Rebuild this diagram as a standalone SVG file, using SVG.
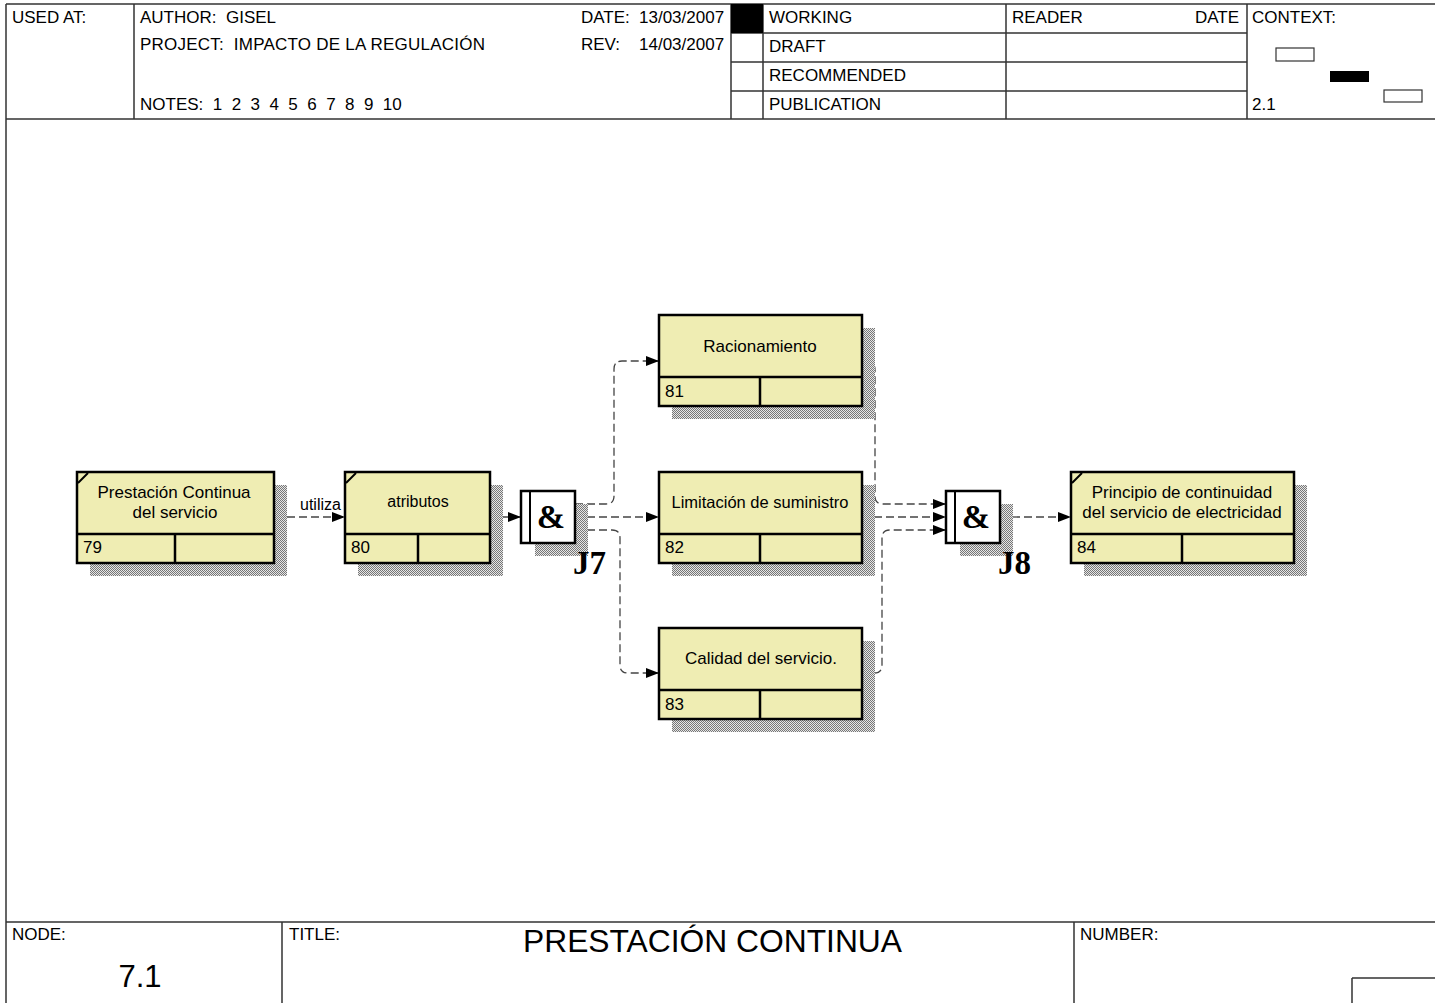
<svg xmlns="http://www.w3.org/2000/svg" width="1435" height="1003" viewBox="0 0 1435 1003">
<style>
.t{font-family:"Liberation Sans",Arial,sans-serif;font-size:17px;fill:#000;white-space:pre}
.s16{font-size:16px}
.b{font-family:"Liberation Sans",Arial,sans-serif;font-size:17px;fill:#000;text-anchor:middle}
.frame{stroke:#333;stroke-width:1.5;fill:none}
.box{fill:#EFEDB3;stroke:#000;stroke-width:2.5}
.ln{stroke:#000;stroke-width:2.5}
.sh{fill:url(#hatch)}
.c{fill:none;stroke:#444;stroke-width:1.3;stroke-dasharray:8,4}
.j{fill:#fff;stroke:#000;stroke-width:2.5}
.amp{font-family:"Liberation Serif","Times New Roman",serif;font-weight:bold;font-size:34px;text-anchor:middle}
.jl{font-family:"Liberation Serif","Times New Roman",serif;font-weight:bold;font-size:33px}
</style>
<defs>
<pattern id="hatch" width="2" height="2" patternUnits="userSpaceOnUse">
<rect width="2" height="2" fill="#e6e6e6"/>
<rect width="1" height="1" fill="#777"/>
<rect x="1" y="1" width="1" height="1" fill="#777"/>
</pattern>
<marker id="ar" markerWidth="13" markerHeight="10" refX="13" refY="5" orient="auto" markerUnits="userSpaceOnUse">
<path d="M0,0 L13,5 L0,10 z" fill="#000"/>
</marker>
</defs>
<rect width="1435" height="1003" fill="#fff"/>

<g id="frame">
<path class="frame" d="M6,4 H1435 M6,4 V1003 M6,119 H1435 M134,4 V119 M731,4 V119 M763,4 V119 M1006,4 V119 M1247,4 V119 M731,33 H1247 M731,62 H1247 M731,91 H1247"/>
<rect x="731" y="4" width="32" height="29" fill="#000"/>
<path class="frame" d="M6,922 H1435 M282,922 V1003 M1074,922 V1003 M1352,978 H1435 M1352,978 V1003"/>
<rect x="1276" y="48" width="38" height="13" fill="#fff" stroke="#333" stroke-width="1.2"/>
<rect x="1330" y="71" width="39" height="11" fill="#000"/>
<rect x="1384" y="90" width="38" height="12" fill="#fff" stroke="#333" stroke-width="1.2"/>
<text class="t" x="12" y="23">USED AT:</text>
<text class="t" x="140" y="23">AUTHOR:  GISEL</text>
<text class="t" x="140" y="50" textLength="345" lengthAdjust="spacing">PROJECT:  IMPACTO DE LA REGULACIÓN</text>
<text class="t" x="140" y="110">NOTES:  1  2  3  4  5  6  7  8  9  10</text>
<text class="t" x="581" y="23">DATE:</text>
<text class="t" x="639" y="23">13/03/2007</text>
<text class="t" x="581" y="50">REV:</text>
<text class="t" x="639" y="50">14/03/2007</text>
<text class="t" x="769" y="23">WORKING</text>
<text class="t" x="769" y="52">DRAFT</text>
<text class="t" x="769" y="81">RECOMMENDED</text>
<text class="t" x="769" y="110">PUBLICATION</text>
<text class="t" x="1012" y="23">READER</text>
<text class="t" x="1239" y="23" style="text-anchor:end">DATE</text>
<text class="t" x="1252" y="23">CONTEXT:</text>
<text class="t" x="1252" y="110">2.1</text>
<text class="t" x="12" y="940">NODE:</text>
<text class="t" x="140" y="987" style="font-size:31px;text-anchor:middle">7.1</text>
<text class="t" x="289" y="940">TITLE:</text>
<text class="t" x="523" y="952" style="font-size:32px" textLength="379" lengthAdjust="spacingAndGlyphs">PRESTACIÓN CONTINUA</text>
<text class="t" x="1080" y="940">NUMBER:</text>
</g>

<g id="connectors">
<path class="c" d="M287,517 H345" marker-end="url(#ar)"/>
<text class="t s16" x="300" y="510">utiliza</text>
<path class="c" d="M503,517 H521" marker-end="url(#ar)"/>
<path class="c" d="M575,504 H606 Q614,504 614,496 V369 Q614,361 622,361 H659" marker-end="url(#ar)"/>
<path class="c" d="M575,517 H659" marker-end="url(#ar)"/>
<path class="c" d="M575,530 H612 Q620,530 620,538 V665 Q620,673 628,673 H659" marker-end="url(#ar)"/>
<path class="c" d="M862,362 H867 Q875,362 875,370 V496 Q875,504 883,504 H946" marker-end="url(#ar)"/>
<path class="c" d="M862,517 H946" marker-end="url(#ar)"/>
<path class="c" d="M862,673 H874 Q882,673 882,665 V538 Q882,530 890,530 H946" marker-end="url(#ar)"/>
<path class="c" d="M1012,517 H1071" marker-end="url(#ar)"/>
</g>

<g id="n79">
<rect class="sh" x="90" y="485" width="197" height="91"/>
<rect class="box" x="77" y="472" width="197" height="91"/>
<path class="ln" d="M77,534 H274 M175,534 V563"/>
<path d="M78,483 L88,473" stroke="#000" stroke-width="2"/>
<text class="b" x="174" y="498">Prestación Continua</text>
<text class="b" x="175" y="518">del servicio</text>
<text class="t" x="83" y="553">79</text>
</g>

<g id="n80">
<rect class="sh" x="358" y="485" width="145" height="91"/>
<rect class="box" x="345" y="472" width="145" height="91"/>
<path class="ln" d="M345,534 H490 M418,534 V563"/>
<path d="M346,483 L356,473" stroke="#000" stroke-width="2"/>
<text class="b" x="418" y="507" style="font-size:16px">atributos</text>
<text class="t" x="351" y="553">80</text>
</g>

<g id="j7">
<rect class="sh" x="535" y="504" width="53" height="52"/>
<rect class="j" x="521" y="491" width="54" height="52"/>
<path d="M530,491 V543" stroke="#000" stroke-width="2"/>
<text class="amp" x="551" y="528">&amp;</text>
<text class="jl" x="573" y="574">J7</text>
</g>

<g id="n81">
<rect class="sh" x="672" y="328" width="203" height="91"/>
<rect class="box" x="659" y="315" width="203" height="91"/>
<path class="ln" d="M659,377 H862 M760,377 V406"/>
<text class="b" x="760" y="352">Racionamiento</text>
<text class="t" x="665" y="397">81</text>
</g>

<g id="n82">
<rect class="sh" x="672" y="485" width="203" height="91"/>
<rect class="box" x="659" y="472" width="203" height="91"/>
<path class="ln" d="M659,534 H862 M760,534 V563"/>
<text class="b" x="760" y="508" style="font-size:16.5px">Limitación de suministro</text>
<text class="t" x="665" y="553">82</text>
</g>

<g id="n83">
<rect class="sh" x="672" y="641" width="203" height="91"/>
<rect class="box" x="659" y="628" width="203" height="91"/>
<path class="ln" d="M659,690 H862 M760,690 V719"/>
<text class="b" x="761" y="664">Calidad del servicio.</text>
<text class="t" x="665" y="710">83</text>
</g>

<g id="j8">
<rect class="sh" x="960" y="504" width="53" height="52"/>
<rect class="j" x="946" y="491" width="54" height="52"/>
<path d="M955,491 V543" stroke="#000" stroke-width="2"/>
<text class="amp" x="976" y="528">&amp;</text>
<text class="jl" x="998" y="574">J8</text>
</g>

<g id="n84">
<rect class="sh" x="1084" y="485" width="223" height="91"/>
<rect class="box" x="1071" y="472" width="223" height="91"/>
<path class="ln" d="M1071,534 H1294 M1182,534 V563"/>
<path d="M1072,483 L1082,473" stroke="#000" stroke-width="2"/>
<text class="b" x="1182" y="498">Principio de continuidad</text>
<text class="b" x="1182" y="518">del servicio de electricidad</text>
<text class="t" x="1077" y="553">84</text>
</g>
</svg>
